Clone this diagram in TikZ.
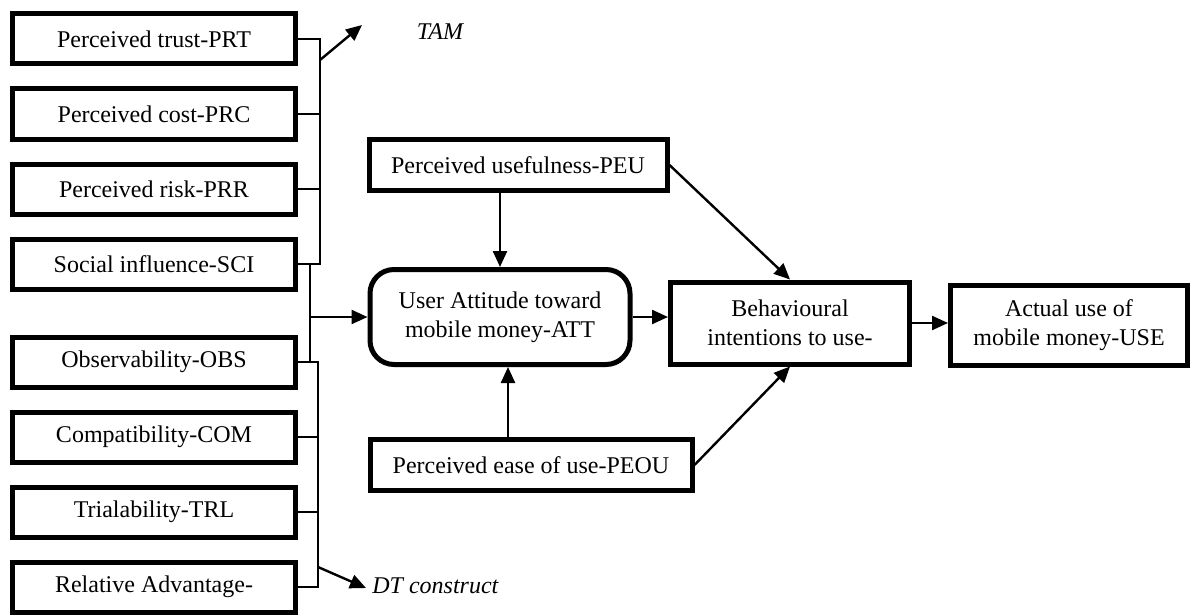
\documentclass[tikz,border=0pt]{standalone}
\usepackage{fontspec}
\setmainfont{Liberation Serif}
\usepackage{tikz}
\usetikzlibrary{arrows.meta, positioning, calc}

\begin{document}
\begin{tikzpicture}[
        x=0.5pt, y=-0.5pt,
        % Global styles
        base/.style={align=center, font=\fontsize{12}{14.5}\selectfont, inner sep=2pt},
        % Left column factors
        box_factor/.style={base, draw, line width=2.5pt, minimum width=141.5pt, minimum height=25pt},
        % Core constructs (right)
        box_core/.style={base, draw, line width=2.5pt},
        % Attitude box
        box_round/.style={box_core, rounded corners=12pt},
        % Italic labels
        label_italic/.style={base, font=\fontsize{12}{14.5}\selectfont\itshape},
        % Lines and arrows
        link_line/.style={line width=1.2pt},
        arrow/.style={link_line, -{Triangle[length=8pt, width=7pt]}},
        node distance=10pt
    ]

    \useasboundingbox (0,0) rectangle (1198,615);

    % --- LEFT COLUMN (TAM GROUP) ---
    \node[box_factor] (prt) at (154,39) {Perceived trust-PRT};
    \node[box_factor, below=of prt] (prc) {Perceived cost-PRC};
    \node[box_factor, below=of prc] (prr) {Perceived risk-PRR};
    \node[box_factor, below=of prr] (sci) {Social influence-SCI};

    % --- LEFT COLUMN (DT GROUP) ---
    \node[box_factor, below=21.5pt of sci] (obs) {Observability-OBS};
    \node[box_factor, below=of obs] (com) {Compatibility-COM};
    \node[box_factor, below=of com] (trl) {Trialability-TRL};
    \node[box_factor, below=of trl] (rel) {Relative Advantage-};

    % --- CENTRE AND RIGHT ---
    \node[box_core, minimum width=149pt, minimum height=25.5pt] (peu) at (518,165) {Perceived usefulness-PEU};
    \node[box_round, minimum width=130pt, minimum height=47.5pt] (att) at (500,317) {User Attitude toward\\mobile money-ATT};
    \node[box_core, minimum width=161pt, minimum height=25.5pt] (peou) at (531,465) {Perceived ease of use-PEOU};
    \node[box_core, minimum width=119.5pt, minimum height=41pt] (bi) at (790,323) {Behavioural\\intentions to use-};
    \node[box_core, minimum width=118.5pt, minimum height=40pt] (use) at (1069,325) {Actual use of\\mobile money-USE};

    % --- LABELS ---
    \node[label_italic] (tam) at (440,32) {TAM};
    \node[label_italic, anchor=west] (dt) at (368,586) {DT construct};

    % --- BRACKETS ---
    \coordinate (tamx) at (320,0);
    \coordinate (dtx) at (318,0);
    \coordinate (lnk) at (310,0);
    \draw[link_line] (prt.east) -- (prt.east -| tamx) -- (sci.east -| tamx) -- (sci.east);
    \foreach \n in {prc, prr}
        \draw[link_line] (\n.east) -- (\n.east -| tamx);
    \draw[link_line] (obs.east) -- (obs.east -| dtx) -- (rel.east -| dtx) -- (rel.east);
    \foreach \n in {com, trl}
        \draw[link_line] (\n.east) -- (\n.east -| dtx);
    \draw[link_line] (sci.east -| lnk) -- (obs.east -| lnk);

    % --- ARROWS ---
    \coordinate (tamfoot) at (320,60);
    \coordinate (tamtip) at (362,25);
    \coordinate (dtfoot) at (318,567);
    \coordinate (dttip) at (366,588);
    \coordinate (attin) at ($(att.south)+(8,0)$);
    \draw[arrow] (tamfoot) -- (tamtip);
    \draw[arrow] (dtfoot) -- (dttip);
    \draw[arrow] (lnk |- att.west) -- (att.west);
    \draw[arrow] (att.north |- peu.south) -- (att.north);
    \draw[arrow] (attin |- peou.north) -- (attin);
    \draw[arrow] (att.east) -- (att.east -| bi.west);
    \draw[arrow] (bi.east) -- (bi.east -| use.west);
    \draw[arrow] (peu.east) -- (bi.north);
    \draw[arrow] (peou.east) -- (bi.south);

\end{tikzpicture}
\end{document}
